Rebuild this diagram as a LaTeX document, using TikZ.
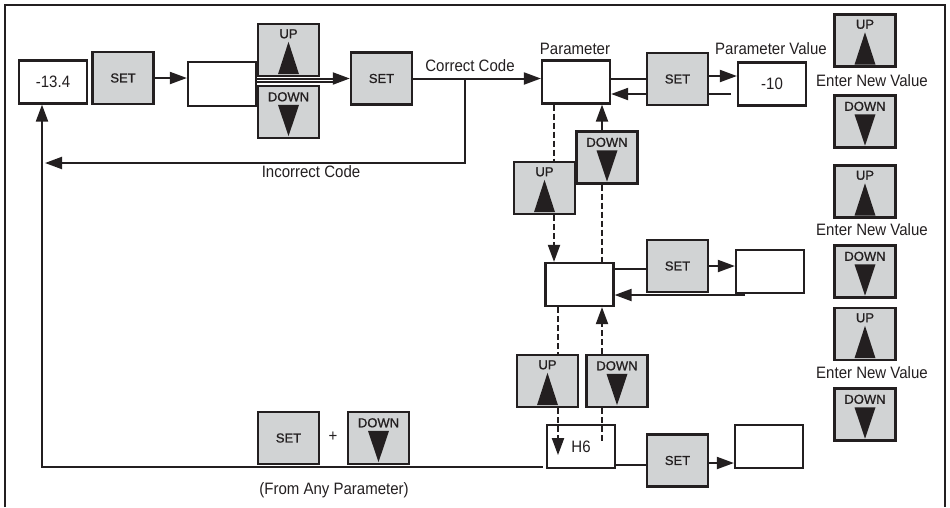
\documentclass[tikz,border=0pt]{standalone}
\usepackage{fontspec}
\setmainfont[FakeStretch=0.91]{Liberation Sans}
\newfontfamily\keyfont[FakeBold=1]{Liberation Sans}
\usetikzlibrary{arrows.meta,calc}
\definecolor{ink}{RGB}{35,31,32}
\definecolor{keygray}{RGB}{209,211,212}
\tikzset{
  every node/.style={text=ink},
  panel/.style={draw=ink,line width=2.2pt,fill=white,inner sep=0pt,
    minimum width=68pt,minimum height=43pt,font=\fontsize{16.5}{19}\selectfont},
  key/.style={draw=ink,line width=2.4pt,fill=keygray,inner sep=0pt,
    minimum width=61pt,minimum height=52pt,font=\keyfont\fontsize{13}{15}\selectfont},
  keytext/.style={inner sep=0pt,font=\keyfont\fontsize{13}{15}\selectfont},
  caption/.style={inner sep=0pt,font=\fontsize{16.5}{19}\selectfont},
  conn/.style={draw=ink,line width=2pt},
  arr/.style={conn,-{Triangle[length=17pt,width=12pt]}},
  dashline/.style={conn,dash pattern=on 6pt off 3pt},
  darr/.style={dashline,-{Triangle[length=17pt,width=12pt]}},
}
% keys: name, centre x, centre y
\newcommand\KeyUp[3]{%
  \node[key] (#1) at (#2,#3) {};
  \node[keytext] at ($(#1.north)+(0,11)$) {UP};
  \fill[ink] ($(#1.south)+(-10.5,-3)$) -- ($(#1.south)+(10.5,-3)$)
    -- ($(#1.north)+(0,19)$) -- cycle;}
\newcommand\KeyDown[3]{%
  \node[key] (#1) at (#2,#3) {};
  \node[keytext] at ($(#1.north)+(0,12)$) {DOWN};
  \fill[ink] ($(#1.north)+(-10.5,20)$) -- ($(#1.north)+(10.5,20)$)
    -- ($(#1.south)+(0,-3)$) -- cycle;}
\newcommand\KeySet[3]{\node[key] (#1) at (#2,#3) {SET};}

\begin{document}
\begin{tikzpicture}[x=1pt,y=-1pt]
\useasboundingbox (0,0) rectangle (950,507);

% open frame
\draw[ink,line width=2pt] (5,507) -- (5,5) -- (945,5) -- (945,507);

% lanes and free ends
\coordinate (laneA) at (554,0);
\coordinate (laneB) at (602,0);
\coordinate (laneC) at (558,0);
\coordinate (retx) at (42,0);
\coordinate (jn) at (465,79);
\coordinate (inc) at (45,163);
\coordinate (valret) at (731,94);
\coordinate (ret4) at (745,295);

% ---- top row
\node[panel] (disp) at (53,82) {-13.4};
\KeySet{set1}{123}{78}
\node[panel,minimum height=44pt] (code) at (222,84) {};
\KeyUp{up1}{288.5}{50}
\KeyDown{dn1}{288.5}{112}
\KeySet{set2}{381.5}{78.5}
\node[panel] (par) at (576,82) {};
\node[panel] (val) at (772,84) {-10};

\draw[arr] (set1.east) -- (set1.east -| code.west);
\draw[arr] (code.east |- set2.west) -- (set2.west);
\draw[conn,line width=1.5pt] ($(code.east |- set2.west)+(0,3.5)$) -- ++(79,0);
\draw[arr] (set2.east) -- (set2.east -| par.west);
\draw[arr] (jn) |- (inc);
\draw[arr] (valret) -- (valret -| par.east);
\KeySet{set3}{677.5}{79}
\draw[conn] (par.east |- set3.west) -- (set3.west);
\draw[arr] ([yshift=3pt]set3.east) -- ([yshift=3pt]set3.east -| val.west);

\node[caption] at (470,66) {Correct Code};
\node[caption] at (311,172) {Incorrect Code};
\node[caption] at (575,49) {Parameter};
\node[caption] at (771,49) {Parameter Value};

% ---- right column
\KeyUp{rup1}{865}{40.5}
\node[caption] at (872,81) {Enter New Value};
\KeyDown{rdn1}{865}{121.5}
\KeyUp{rup2}{865}{191.5}
\node[caption] at (872,230) {Enter New Value};
\KeyDown{rdn2}{865}{271.5}
\KeyUp{rup3}{865}{334}
\node[caption] at (872,373) {Enter New Value};
\KeyDown{rdn3}{865}{414.5}

% ---- middle column
\KeyUp{mup1}{544.5}{188}
\KeyDown{mdn1}{607}{157.5}
\node[panel] (p2) at (579.5,284.5) {};
\KeySet{set4}{677.5}{266}
\node[panel] (v2) at (770,271.5) {};
\KeyUp{mup2}{547.5}{381}
\KeyDown{mdn2}{617}{381}
\node[panel] (h6) at (581,446.5) {H6};
\KeySet{set5}{677.5}{460.5}
\node[panel] (v3) at (769,446.5) {};

\draw[dashline] (laneA |- par.south) -- (laneA |- mup1.north);
\draw[arr] (laneB |- mdn1.north) -- (laneB |- par.south);
\draw[darr] (laneA |- mup1.south) -- (laneA |- p2.north);
\draw[dashline] (laneB |- mdn1.south) -- (laneB |- p2.north);

\draw[conn] ([yshift=-3pt]set4.west -| p2.east) -- ([yshift=-3pt]set4.west);
\draw[arr] (set4.east) -- (set4.east -| v2.west);
\draw[arr] (ret4) -- (ret4 -| p2.east);

\draw[dashline] (laneC |- p2.south) -- (laneC |- mup2.north);
\draw[darr] (laneB |- mdn2.north) -- (laneB |- p2.south);
\draw[darr] (laneC |- mup2.south) -- ($(laneC |- h6.south)+(0,-14)$);
\draw[dashline] (laneB |- mdn2.south) -- ($(laneB |- h6.south)+(0,-28)$);

\draw[conn] ([yshift=-4.5pt]set5.west -| h6.east) -- ([yshift=-4.5pt]set5.west);
\draw[arr] ([yshift=-2.5pt]set5.east) -- ([yshift=-2.5pt]set5.east -| v3.west);

% ---- return path to the display
\draw[arr] ($(h6.south west)+(-3,-2)$) -| (retx |- disp.south);
\KeySet{bset}{288.5}{438}
\node[caption] at (333,437) {+};
\KeyDown{bdn}{378.5}{438}
\node[caption] at (334,490) {(From Any Parameter)};
\end{tikzpicture}
\end{document}
